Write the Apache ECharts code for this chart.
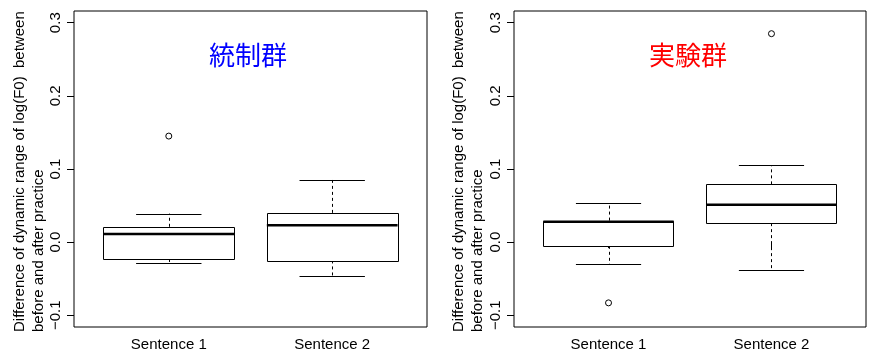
<!DOCTYPE html>
<html>
<head>
<meta charset="utf-8">
<script src="https://cdn.jsdelivr.net/npm/echarts@6/dist/echarts.min.js"></script>
<style>
html,body{margin:0;padding:0;background:#fff;}
#chart{width:874px;height:352px;}
</style>
</head>
<body>
<div id="chart"></div>
<script>
// ---- data ----
const categories = ['Sentence 1', 'Sentence 2'];
const panelTitles = ['統制群', '実験群'];
const axisTitleLines = ['Difference of dynamic range of log(F0)  between', 'before and after practice'];
const yTicks = [-0.1, 0.0, 0.1, 0.2, 0.3];
// [lower whisker, Q1, median, Q3, upper whisker]
const controlBoxes = [
  [-0.028, -0.023, 0.011, 0.021, 0.039],
  [-0.046, -0.025, 0.023, 0.040, 0.085]
];
const controlOutliers = [[1, 0.145]];
const experimentBoxes = [
  [-0.030, -0.005, 0.028, 0.0295, 0.054],
  [-0.038, 0.026, 0.051, 0.079, 0.105]
];
const experimentOutliers = [[1, -0.083], [2, 0.285]];

const FONT = '"Liberation Sans", Arial, Helvetica, sans-serif';
const CJK = '"Noto Sans CJK JP", sans-serif';

const chart = echarts.init(document.getElementById('chart'), null, {renderer: 'canvas'});

const gridsPos = [
  {left: 74, top: 11, width: 353, height: 316},
  {left: 514, top: 11, width: 352, height: 316}
];

function fmtY(v) {
  const s = Math.abs(v).toFixed(1);
  return v < -1e-9 ? '\u2212' + s : s;
}

function renderBox(params, api) {
  const x = api.value(0), lo = api.value(1), q1 = api.value(2), med = api.value(3), q3 = api.value(4), hi = api.value(5);
  const tl = api.coord([x - 0.4, q3]);
  const br = api.coord([x + 0.4, q1]);
  const m1 = api.coord([x - 0.4, med]), m2 = api.coord([x + 0.4, med]);
  const wTop = api.coord([x, q3]), wHi = api.coord([x, hi]);
  const wBot = api.coord([x, q1]), wLo = api.coord([x, lo]);
  const cH1 = api.coord([x - 0.2, hi]), cH2 = api.coord([x + 0.2, hi]);
  const cL1 = api.coord([x - 0.2, lo]), cL2 = api.coord([x + 0.2, lo]);
  const r = v => Math.round(v) + 0.5;
  return {
    type: 'group',
    children: [
      {type: 'line', shape: {x1: r(wTop[0]), y1: wTop[1], x2: r(wHi[0]), y2: wHi[1]}, style: {stroke: '#000', lineWidth: 1, lineDash: [3, 3]}},
      {type: 'line', shape: {x1: r(wBot[0]), y1: wBot[1], x2: r(wLo[0]), y2: wLo[1]}, style: {stroke: '#000', lineWidth: 1, lineDash: [3, 3]}},
      {type: 'line', shape: {x1: cH1[0], y1: r(cH1[1]), x2: cH2[0], y2: r(cH2[1])}, style: {stroke: '#000', lineWidth: 1}},
      {type: 'line', shape: {x1: cL1[0], y1: r(cL1[1]), x2: cL2[0], y2: r(cL2[1])}, style: {stroke: '#000', lineWidth: 1}},
      {type: 'rect', shape: {x: r(tl[0]), y: r(tl[1]), width: Math.round(br[0] - tl[0]), height: Math.round(br[1] - tl[1])}, style: {fill: '#fff', stroke: '#000', lineWidth: 1}},
      {type: 'line', shape: {x1: m1[0], y1: m1[1], x2: m2[0], y2: m2[1]}, style: {stroke: '#000', lineWidth: 2.5}}
    ]
  };
}

const grids = gridsPos.map(g => Object.assign({show: true, borderColor: '#000', borderWidth: 1, backgroundColor: 'transparent', containLabel: false}, g));

const xAxes = [0, 1].map(i => ({
  type: 'value', gridIndex: i, min: 0.42, max: 2.58,
  axisLine: {show: false},
  splitLine: {show: false},
  axisTick: {show: true, length: 6, customValues: [1, 2], lineStyle: {color: '#000', width: 1}},
  axisLabel: {show: true, customValues: [1, 2], margin: 10, color: '#000', fontSize: 15, fontFamily: FONT,
    formatter: v => categories[Math.round(v) - 1]}
}));

const yAxes = [0, 1].map(i => ({
  type: 'value', gridIndex: i, min: -0.116, max: 0.316,
  axisLine: {show: false},
  splitLine: {show: false},
  axisTick: {show: true, length: 7, customValues: yTicks, lineStyle: {color: '#000', width: 1}},
  axisLabel: {show: true, customValues: yTicks, rotate: 90, margin: 11, color: '#000', fontSize: 15, fontFamily: FONT,
    formatter: fmtY}
}));

const boxSets = [controlBoxes, experimentBoxes];
const outlierSets = [controlOutliers, experimentOutliers];
const series = [];
[0, 1].forEach(i => {
  series.push({
    type: 'custom', xAxisIndex: i, yAxisIndex: i,
    data: boxSets[i].map((b, k) => [k + 1].concat(b)),
    encode: {x: 0, y: [1, 2, 3, 4, 5]},
    renderItem: renderBox,
    silent: true, animation: false
  });
  series.push({
    type: 'scatter', xAxisIndex: i, yAxisIndex: i,
    data: outlierSets[i],
    symbol: 'circle', symbolSize: 6,
    itemStyle: {color: '#fff', borderColor: '#000', borderWidth: 1, opacity: 1},
    silent: true, animation: false, z: 5
  });
});

const titleColors = ['#0000ff', '#ff0000'];
const titleX = [248, 688];
const graphics = [];
[0, 1].forEach(i => {
  graphics.push({
    type: 'text', x: titleX[i], y: 55,
    style: {text: panelTitles[i], fill: titleColors[i], font: '26px ' + CJK, align: 'center', verticalAlign: 'middle'}
  });
  const off = i === 0 ? 0 : 439;
  graphics.push({
    type: 'text', x: 27 + off, y: 332, rotation: Math.PI / 2,
    style: {text: axisTitleLines[0], fill: '#000', font: '15px ' + FONT, align: 'left', verticalAlign: 'bottom'}
  });
  graphics.push({
    type: 'text', x: 46 + off, y: 332, rotation: Math.PI / 2,
    style: {text: axisTitleLines[1], fill: '#000', font: '15px ' + FONT, align: 'left', verticalAlign: 'bottom'}
  });
});

chart.setOption({
  animation: false,
  backgroundColor: '#fff',
  grid: grids,
  xAxis: xAxes,
  yAxis: yAxes,
  series: series,
  graphic: graphics
});
</script>
</body>
</html>
